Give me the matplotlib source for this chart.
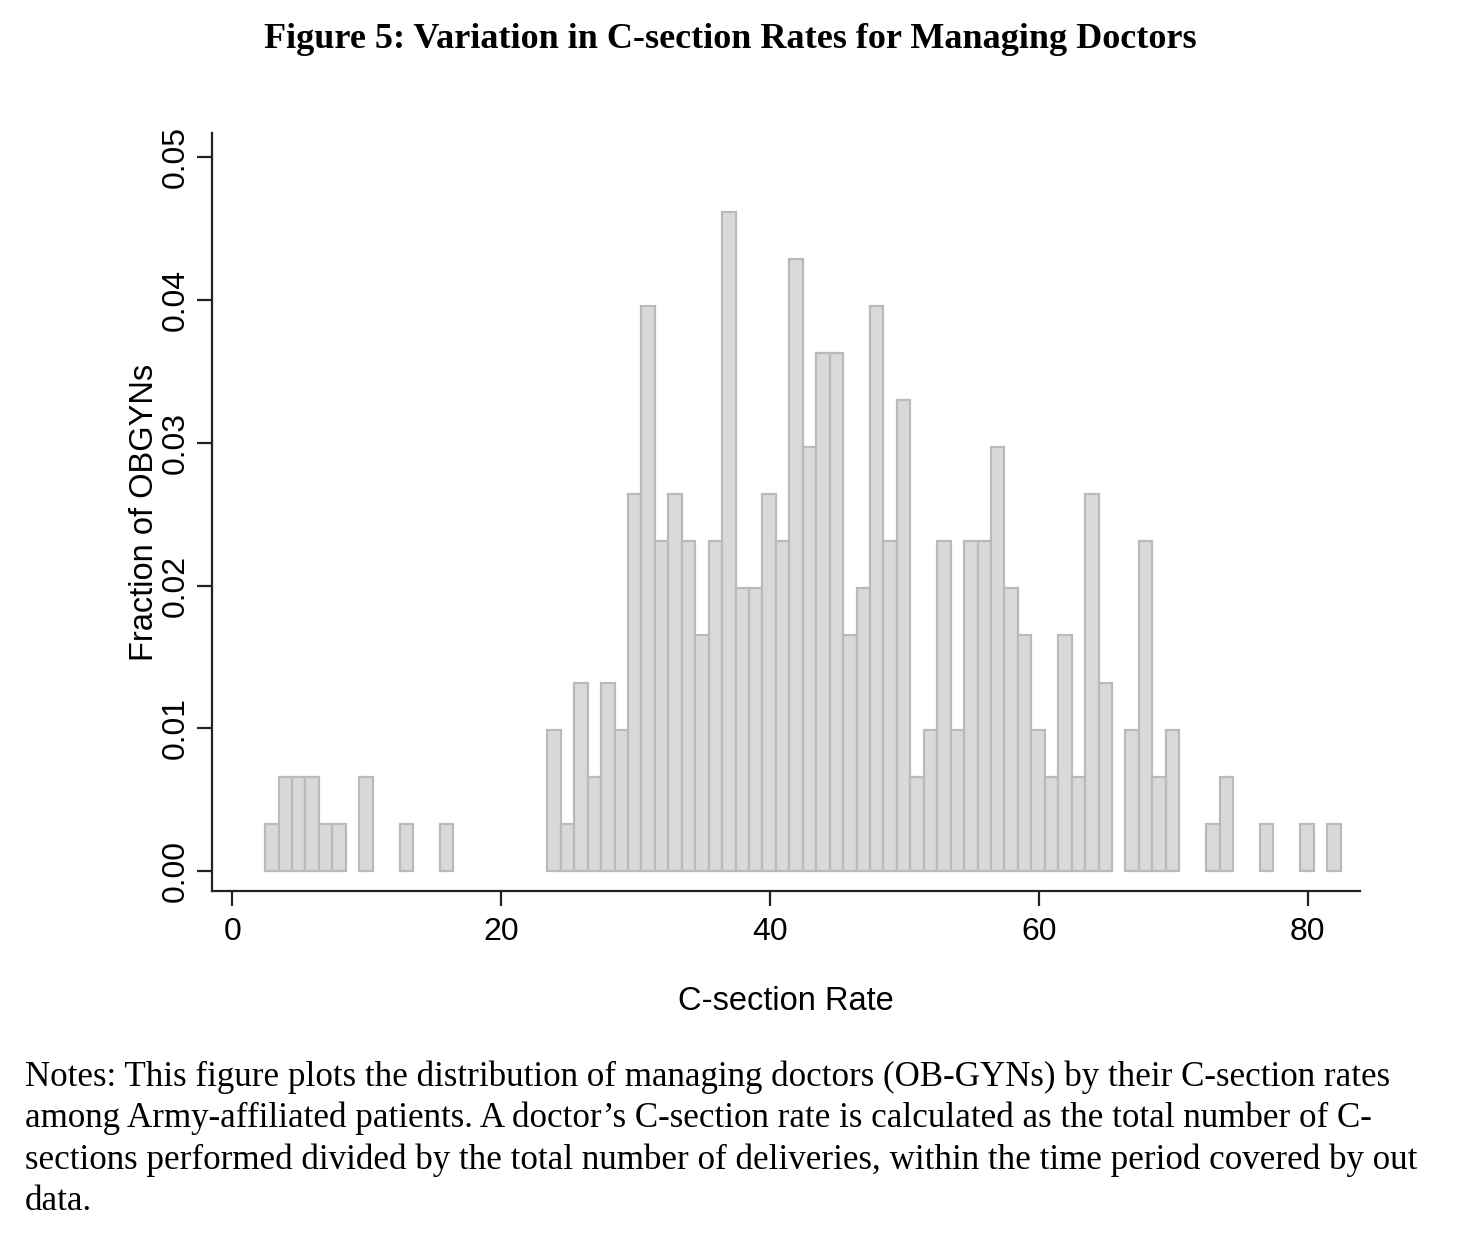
import numpy as np
import matplotlib
matplotlib.use("Agg")
import matplotlib.pyplot as plt

# left edge of each non-empty bin (bin width 1.0) and fraction of OBGYNs in it
bin_left = [2.45, 3.45, 4.45, 5.45, 6.45, 7.45, 9.45, 12.45, 15.45,
            23.45, 24.45, 25.45, 26.45, 27.45, 28.45, 29.45, 30.45, 31.45, 32.45,
            33.45, 34.45, 35.45, 36.45, 37.45, 38.45, 39.45, 40.45, 41.45, 42.45,
            43.45, 44.45, 45.45, 46.45, 47.45, 48.45, 49.45, 50.45, 51.45, 52.45,
            53.45, 54.45, 55.45, 56.45, 57.45, 58.45, 59.45, 60.45, 61.45, 62.45,
            63.45, 64.45, 66.45, 67.45, 68.45, 69.45, 72.45, 73.45, 76.45, 79.45,
            81.45]
fraction = [0.0033, 0.0066, 0.0066, 0.0066, 0.0033, 0.0033, 0.0066, 0.0033, 0.0033,
            0.0099, 0.0033, 0.0132, 0.0066, 0.0132, 0.0099, 0.0264, 0.0396, 0.0231, 0.0264,
            0.0231, 0.0165, 0.0231, 0.0462, 0.0198, 0.0198, 0.0264, 0.0231, 0.0429, 0.0297,
            0.0363, 0.0363, 0.0165, 0.0198, 0.0396, 0.0231, 0.0330, 0.0066, 0.0099, 0.0231,
            0.0099, 0.0231, 0.0231, 0.0297, 0.0198, 0.0165, 0.0099, 0.0066, 0.0165, 0.0066,
            0.0264, 0.0132, 0.0099, 0.0231, 0.0066, 0.0099, 0.0033, 0.0066, 0.0033, 0.0033,
            0.0033]
bin_width = 1.0

xticks = [0, 20, 40, 60, 80]
yticks = [0.00, 0.01, 0.02, 0.03, 0.04, 0.05]

title = "Figure 5: Variation in C-section Rates for Managing Doctors"
notes = [
    "Notes: This figure plots the distribution of managing doctors (OB-GYNs) by their C-section rates",
    "among Army-affiliated patients. A doctor\u2019s C-section rate is calculated as the total number of C-",
    "sections performed divided by the total number of deliveries, within the time period covered by out",
    "data.",
]

plt.rcParams["font.family"] = ["Liberation Sans", "DejaVu Sans"]

fig = plt.figure(figsize=(14.6, 12.4), dpi=100)
ax = fig.add_axes([212 / 1460, 1 - 891 / 1240, (1360 - 212) / 1460, (891 - 133) / 1240])

ax.bar(bin_left, fraction, width=bin_width, align="edge",
       color="#d9d9d9", edgecolor="#bababa", linewidth=1.6)

ax.set_xlim(-1.5, 83.9)
ax.set_ylim(-0.0014, 0.0517)

for side in ["top", "right"]:
    ax.spines[side].set_visible(False)
for side in ["left", "bottom"]:
    ax.spines[side].set_linewidth(1.6)
    ax.spines[side].set_color("#222222")

ax.set_xticks(xticks)
ax.set_xticklabels([str(t) for t in xticks])
ax.set_yticks(yticks)
ax.set_yticklabels(["%.2f" % t for t in yticks], rotation=90, va="center")
ax.tick_params(axis="both", length=11, width=1.6, color="#222222",
               labelsize=23, pad=8)
ax.tick_params(axis="y", pad=4)

ax.set_xlabel("C-section Rate", fontsize=23.5, labelpad=28)
ax.set_ylabel("Fraction of OBGYNs", fontsize=23.5, labelpad=1)

serif = ["Liberation Serif", "DejaVu Serif"]
fig.text(0.5, 1 - 40 / 1240, title, ha="center", va="center",
         fontsize=26, fontweight="bold", family=serif)

y0 = 1077
for i, line in enumerate(notes):
    fig.text(25 / 1460, 1 - (y0 + i * 41.5) / 1240, line, ha="left", va="center",
             fontsize=25.2, family=serif)

fig.savefig("out.png", dpi=100, facecolor="white")
